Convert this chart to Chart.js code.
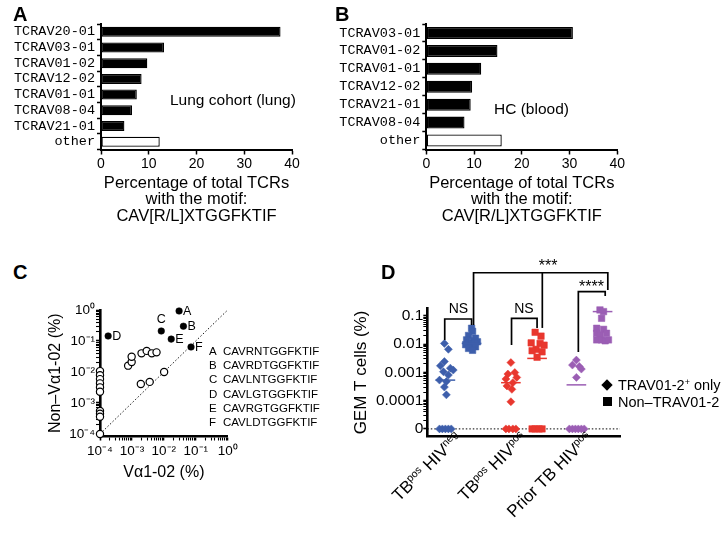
<!DOCTYPE html>
<html><head><meta charset="utf-8">
<script src="https://cdn.jsdelivr.net/npm/chart.js@4/dist/chart.umd.min.js"></script>
<style>
html,body{margin:0;padding:0;background:#fff;}
#wrap{position:relative;width:728px;height:545px;overflow:hidden;background:#fff;font-family:"Liberation Sans",Arial,Helvetica,sans-serif;color:#000;}
canvas{position:absolute;}
.t{position:absolute;white-space:nowrap;line-height:1;}
.letter{font-weight:bold;font-size:20px;}
.cat{position:absolute;width:0;height:0;}
.cat span{position:absolute;right:0;bottom:0;white-space:nowrap;line-height:1;font-size:17px;transform-origin:100% 100%;transform:rotate(-45deg);}
sup{font-size:62%;vertical-align:0.55em;line-height:0;}
.mk{position:absolute;background:#000;}
</style></head><body>
<div id="wrap">
<canvas id="cA" width="340" height="250" style="left:0;top:0"></canvas>
<canvas id="cB" width="393" height="250" style="left:335px;top:0"></canvas>
<canvas id="cC" width="364" height="200" style="left:0;top:290px"></canvas>
<canvas id="cD" width="388" height="295" style="left:340px;top:250px"></canvas>

<div class="t letter" style="left:13px;top:4px">A</div>
<div class="t letter" style="left:335px;top:4px">B</div>
<div class="t letter" style="left:13px;top:262px">C</div>
<div class="t letter" style="left:381px;top:262px">D</div>

<div class="t" style="left:170px;top:92px;font-size:15.5px">Lung cohort (lung)</div>
<div class="t" style="left:494px;top:101px;font-size:15.5px">HC (blood)</div>

<div id="legC"></div>
<div id="legD"></div>
<div id="catsD"></div>
</div>
<script>
// ---------- DATA ----------
// Panel A (Lung cohort, lung)
const aCategories = ['TCRAV20-01','TCRAV03-01','TCRAV01-02','TCRAV12-02','TCRAV01-01','TCRAV08-04','TCRAV21-01','other'];
const aValues = [37.6, 13.2, 9.7, 8.5, 7.5, 6.5, 4.9, 12.3];
// Panel B (HC, blood)
const bCategories = ['TCRAV03-01','TCRAV01-02','TCRAV01-01','TCRAV12-02','TCRAV21-01','TCRAV08-04','other'];
const bValues = [30.7, 14.9, 11.5, 9.6, 9.3, 8.0, 15.8];
const abTicks = [0, 10, 20, 30, 40];
const abAxisTitle = ['Percentage of total TCRs', 'with the motif:', 'CAV[R/L]XTGGFKTIF'];

// Panel C
const cNamedX = [0.030, 0.041, 0.0083, 0.00018, 0.017, 0.071];
const cNamedY = [0.93, 0.30, 0.21, 0.145, 0.115, 0.064];
const cNames = ['A','B','C','D','E','F'];
const cMotifs = ['CAVRNTGGFKTIF','CAVRDTGGFKTIF','CAVLNTGGFKTIF','CAVLGTGGFKTIF','CAVRGTGGFKTIF','CAVLDTGGFKTIF'];
const cOtherX = [0.00076, 0.00098, 0.00098, 0.0020, 0.0029, 0.0042, 0.0059, 0.0019, 0.0036, 0.0102,
                 0.0001, 0.0001, 0.0001, 0.0001, 0.0001, 0.0001, 0.0001, 0.0001, 0.0001, 0.0001];
const cOtherY = [0.016, 0.021, 0.031, 0.040, 0.048, 0.040, 0.043, 0.0041, 0.0048, 0.010,
                 0.0107, 0.0079, 0.0059, 0.0043, 0.0032, 0.0023, 0.00055, 0.00045, 0.00036, 0.0001];
const cTickValues = [1e-4, 1e-3, 1e-2, 1e-1, 1];
const cTickLabels = ['10\u207B\u2074','10\u207B\u00B3','10\u207B\u00B2','10\u207B\u00B9','10\u2070'];

// Panel D
const dCategories = ['TB<sup>pos</sup> HIV<sup>neg</sup>', 'TB<sup>pos</sup> HIV<sup>pos</sup>', 'Prior TB HIV<sup>pos</sup>'];
const dSeriesNames = ['TRAV01-2<sup>+</sup> only', 'Non\u2013TRAV01-2'];
// values (%), 0 = undetectable; jitter = horizontal spread in category units
const d1Trav = [0.0105,0.0065,0.0024,0.0017,0.0014,0.0012,0.00105,0.0008,0.00053,0.00047,0.0003,0.00016,0,0,0,0,0];
const d1TravJit = [-0.015,0.046,-0.015,-0.076,0.076,0.12,-0.03,0.046,-0.09,0.015,-0.015,0.015,-0.09,-0.046,0,0.046,0.09];
const d1Non = [0.036,0.028,0.020,0.016,0.014,0.013,0.012,0.011,0.0105,0.0095,0.009,0.008,0.007,0.006];
const d1NonJit = [0,0.015,-0.046,0.06,-0.076,0.03,0.09,-0.03,0.046,-0.09,0,0.06,-0.046,0.015];
const d2Trav = [0.0022,0.00098,0.00087,0.00066,0.00058,0.00043,0.00033,0.00025,0.000091,0,0,0,0];
const d2TravJit = [0,0.06,-0.046,0.09,-0.076,0.03,-0.06,0.015,0,-0.076,-0.03,0.03,0.076];
const d2Non = [0.026,0.019,0.011,0.0105,0.0091,0.0065,0.0058,0.0053,0.0034,0,0,0,0];
const d2NonJit = [-0.03,0.06,-0.09,0.046,0.107,-0.015,-0.076,0.076,0,-0.076,-0.03,0.03,0.076];
const d3Trav = [0.0027,0.0018,0.0016,0.0013,0.00066,0,0,0,0,0,0];
const d3TravJit = [0,-0.06,0.046,0.076,0,-0.107,-0.06,-0.015,0.03,0.076,0.12];
const d3Non = [0.16,0.14,0.081,0.036,0.033,0.024,0.024,0.021,0.014,0.014,0.013,0.014];
const d3NonJit = [-0.04,0.015,-0.015,-0.09,0.015,0.06,-0.09,-0.04,-0.09,-0.015,0.04,0.09];
const dMedians = [[0.00053, 0.0105], [0.00043, 0.0031], [0.00036, 0.14]];
const dTickValues = [0, 0.0001, 0.001, 0.01, 0.1];
const dTickLabels = ['0', '0.0001', '0.001', '0.01', '0.1'];
const dColors = ['#3d5eab', '#e8372e', '#9b5eb4'];
// significance brackets (x in category units, y in %)
const dBrackets = [
  [[0.79,0.014],[0.79,0.0765],[1.20,0.0765],[1.20,0.047]],
  [[1.81,0.0092],[1.81,0.081],[2.20,0.081],[2.20,0.037]],
  [[1.23,0.047],[1.23,3.3],[3.28,3.3],[3.28,0.81]],
  [[2.28,0.037],[2.28,3.3]],
  [[2.83,0.0052],[2.83,0.71],[3.24,0.71],[3.24,0.5]]
];
const dBracketTexts = [
  {text:'NS', x:1.0, y:0.17}, {text:'NS', x:2.0, y:0.17},
  {text:'***', x:2.37, y:5.3}, {text:'****', x:3.03, y:0.95}
];

// ---------- SETUP ----------
const SANS = "'Liberation Sans', Arial, Helvetica, sans-serif";
Chart.defaults.font.family = SANS;
Chart.defaults.color = '#000';
Chart.defaults.animation = false;
Chart.defaults.plugins.legend.display = false;
Chart.defaults.plugins.tooltip.enabled = false;

function logTickList(minExp, maxExp) {
  const out = [];
  for (let e = minExp; e <= maxExp; e++) for (let m = 1; m <= 9; m++) out.push(m * Math.pow(10, e));
  return out;
}
function labelFor(v, values, labels) {
  const i = values.findIndex(t => t > 0 && Math.abs(Math.log10(t) - Math.log10(v)) < 1e-6);
  return i >= 0 ? labels[i] : '';
}

// ---------- A & B ----------
function barChart(id, cats, vals, yWidth, padRight, barPct) {
  return new Chart(document.getElementById(id), {
    type: 'bar',
    data: { labels: cats, datasets: [{
      data: vals,
      backgroundColor: cats.map(c => c === 'other' ? '#fff' : '#000'),
      borderColor: '#000', borderWidth: 1.3, borderSkipped: false,
      barPercentage: barPct, categoryPercentage: 1
    }]},
    options: {
      indexAxis: 'y', responsive: false,
      layout: { padding: { left: 0, top: 24, right: padRight, bottom: 25.5 } },
      scales: {
        x: {
          type: 'linear', min: 0, max: 40,
          afterBuildTicks: s => { s.ticks = abTicks.map(v => ({ value: v })); },
          ticks: { font: { size: 14 }, padding: 1, maxRotation: 0 },
          grid: { drawOnChartArea: false, tickLength: 5, tickColor: '#000', tickWidth: 1.5 },
          border: { display: true, color: '#000', width: 2 },
          title: { display: true, text: abAxisTitle, font: { size: 16.5, lineHeight: 1.0 }, padding: 0 },
          afterFit: s => { s.height = 75; }
        },
        y: {
          type: 'category',
          ticks: { autoSkip: false, font: { family: "'Liberation Mono', 'Courier New', monospace", size: 13.5 }, padding: 2 },
          grid: { drawOnChartArea: false, tickLength: 4, tickColor: '#000', tickWidth: 1.5 },
          border: { display: true, color: '#000', width: 2 },
          afterFit: s => { s.width = yWidth; }
        }
      }
    }
  });
}
barChart('cA', aCategories, aValues, 101, 48, 0.64);
barChart('cB', bCategories, bValues, 91.3, 110.7, 0.67);

// ---------- C ----------
const cLabelPlugin = {
  id: 'cLabels',
  afterDatasetsDraw(chart) {
    const meta = chart.getDatasetMeta(0);
    const ctx = chart.ctx;
    ctx.save();
    ctx.fillStyle = '#000';
    ctx.font = '12.5px ' + SANS;
    ctx.textBaseline = 'middle';
    meta.data.forEach((pt, i) => {
      if (cNames[i] === 'C') { ctx.textAlign = 'center'; ctx.fillText(cNames[i], pt.x, pt.y - 11); }
      else { ctx.textAlign = 'left'; ctx.fillText(cNames[i], pt.x + 4, pt.y + 0.5); }
    });
    ctx.restore();
  }
};
const cMinor = logTickList(-4, 0);
new Chart(document.getElementById('cC'), {
  type: 'scatter',
  data: { datasets: [
    { data: cNamedX.map((x, i) => ({ x, y: cNamedY[i] })), pointRadius: 3.3, backgroundColor: '#000', borderColor: '#000', borderWidth: 0.5, clip: false, order: 1 },
    { data: cOtherX.map((x, i) => ({ x, y: cOtherY[i] })), pointRadius: 3.6, backgroundColor: '#fff', borderColor: '#000', borderWidth: 1.2, clip: false, order: 2 },
    { data: [{ x: 1e-4, y: 1e-4 }, { x: 1, y: 1 }], showLine: true, pointRadius: 0, borderColor: '#000', borderWidth: 0.9, borderDash: [1.5, 2], order: 3 }
  ]},
  options: {
    responsive: false,
    layout: { padding: { left: 0, top: 20, right: 136.3, bottom: 9 } },
    scales: {
      x: {
        type: 'logarithmic', min: 1e-4, max: 1,
        afterBuildTicks: s => { s.ticks = cMinor.filter(v => v >= s.min * 0.999 && v <= s.max * 1.001).map(v => ({ value: v })); },
        ticks: { autoSkip: false, maxRotation: 0, font: { size: 13.5 }, padding: 3, callback: v => labelFor(v, cTickValues, cTickLabels) },
        grid: { drawOnChartArea: false, tickLength: 4, tickColor: '#000', tickWidth: c => (c.tick && labelFor(c.tick.value, cTickValues, cTickLabels)) ? 1.6 : 1.1 },
        border: { display: true, color: '#000', width: 2.6 },
        title: { display: true, text: 'V\u03B11-02 (%)', font: { size: 16, lineHeight: 1.0 }, padding: 0 },
        afterFit: s => { s.height = 44.5; }
      },
      y: {
        type: 'logarithmic', min: 8.3e-5, max: 1,
        afterBuildTicks: s => { s.ticks = cMinor.filter(v => v >= s.min * 0.999 && v <= s.max * 1.001).map(v => ({ value: v })); },
        ticks: { autoSkip: false, font: { size: 13.5 }, padding: 1, callback: v => labelFor(v, cTickValues, cTickLabels) },
        grid: { drawOnChartArea: false, tickLength: 4, tickColor: '#000', tickWidth: c => (c.tick && labelFor(c.tick.value, cTickValues, cTickLabels)) ? 1.6 : 1.1 },
        border: { display: true, color: '#000', width: 2.6 },
        title: { display: true, text: 'Non\u2013V\u03B11-02 (%)', font: { size: 16, lineHeight: 1.0 }, padding: { top: 48, bottom: 0 } },
        afterFit: s => { s.width = 100; }
      }
    }
  },
  plugins: [cLabelPlugin]
});
// C legend
(function () {
  const leg = document.getElementById('legC');
  cNames.forEach((n, i) => {
    const top = 346 + i * 14.2;
    leg.insertAdjacentHTML('beforeend',
      `<div class="t" style="left:209px;top:${top}px;font-size:11.5px">${n}</div>` +
      `<div class="t" style="left:223px;top:${top}px;font-size:11.5px">${cMotifs[i]}</div>`);
  });
})();

// ---------- D ----------
const D_LEFT = 340, D_TOP = 250;
const ZERO_POS = 1e-5; // position of "0" on the broken log axis
const toAxis = v => v === 0 ? ZERO_POS : v;
const dGroupsTrav = [[d1Trav, d1TravJit], [d2Trav, d2TravJit], [d3Trav, d3TravJit]];
const dGroupsNon = [[d1Non, d1NonJit], [d2Non, d2NonJit], [d3Non, d3NonJit]];
const OFF = 0.2, HALF = 0.15;
const dDatasets = [];
dGroupsTrav.forEach(([vals, jit], g) => {
  dDatasets.push({ data: vals.map((v, i) => ({ x: g + 1 - OFF + jit[i], y: toAxis(v) })), pointStyle: 'rectRot', pointRadius: 4, backgroundColor: dColors[g], borderColor: dColors[g], borderWidth: 0.5, clip: false, order: 1 });
});
dGroupsNon.forEach(([vals, jit], g) => {
  dDatasets.push({ data: vals.map((v, i) => ({ x: g + 1 + OFF + jit[i], y: toAxis(v) })), pointStyle: 'rect', pointRadius: 4.6, backgroundColor: dColors[g], borderColor: dColors[g], borderWidth: 0.5, clip: false, order: 1 });
});
dMedians.forEach(([mT, mN], g) => {
  [[-OFF, mT], [OFF, mN]].forEach(([o, m]) => {
    dDatasets.push({ data: [{ x: g + 1 + o - HALF, y: m }, { x: g + 1 + o + HALF, y: m }], showLine: true, pointRadius: 0, borderColor: dColors[g], borderWidth: 1.5, clip: false, order: 0 });
  });
});
const X_MIN = 0.524, X_MAX = 3.466;
dDatasets.push({ data: [{ x: X_MIN, y: ZERO_POS }, { x: X_MAX, y: ZERO_POS }], showLine: true, pointRadius: 0, borderColor: '#000', borderWidth: 1, borderDash: [1.5, 2], order: 5 });

const bracketPlugin = {
  id: 'brackets',
  afterDatasetsDraw(chart) {
    const { ctx, scales: { x, y } } = chart;
    ctx.save();
    ctx.strokeStyle = '#000'; ctx.lineWidth = 1.7; ctx.lineJoin = 'miter';
    dBrackets.forEach(path => {
      ctx.beginPath();
      path.forEach(([vx, vy], i) => {
        const px = x.getPixelForValue(vx), py = y.getPixelForValue(vy);
        if (i) ctx.lineTo(px, py); else ctx.moveTo(px, py);
      });
      ctx.stroke();
    });
    ctx.fillStyle = '#000'; ctx.textAlign = 'center'; ctx.textBaseline = 'middle';
    dBracketTexts.forEach(t => {
      ctx.font = (t.text === 'NS' ? '14px ' : '16px ') + SANS;
      ctx.fillText(t.text, x.getPixelForValue(t.x), y.getPixelForValue(t.y));
    });
    ctx.restore();
  }
};
const dMinor = logTickList(-5, -1);
const chartD = new Chart(document.getElementById('cD'), {
  type: 'scatter',
  data: { datasets: dDatasets },
  options: {
    responsive: false,
    layout: { padding: { left: 0, top: 58.3, right: 108, bottom: 0 } },
    scales: {
      x: {
        type: 'linear', min: X_MIN, max: X_MAX,
        ticks: { display: false },
        grid: { display: false },
        border: { display: true, color: '#000', width: 2.6 },
        afterFit: s => { s.height = 108.3; }
      },
      y: {
        type: 'logarithmic', min: 5.3e-6, max: 0.183,
        afterBuildTicks: s => { s.ticks = dMinor.filter(v => v >= s.min * 0.999 && v <= s.max * 1.001).map(v => ({ value: v })); },
        ticks: { autoSkip: false, font: { size: 15.5 }, padding: 0, callback: v => labelFor(v, dTickValues.map(toAxis), dTickLabels) },
        grid: { drawOnChartArea: false, tickLength: 4, tickColor: '#000', tickWidth: c => (c.tick && labelFor(c.tick.value, dTickValues.map(toAxis), dTickLabels)) ? 1.6 : 1 },
        border: { display: true, color: '#000', width: 2.6 },
        title: { display: true, text: 'GEM T cells (%)', font: { size: 17, lineHeight: 1.0 }, padding: { top: 12.5, bottom: 0 } },
        afterFit: s => { s.width = 87.3; }
      }
    }
  },
  plugins: [bracketPlugin]
});
// D category labels (rotated, with superscripts) anchored on the x scale
(function () {
  const host = document.getElementById('catsD');
  const xs = chartD.scales.x;
  const bottom = D_TOP + chartD.chartArea.bottom;
  dCategories.forEach((c, g) => {
    const ax = D_LEFT + xs.getPixelForValue(g + 1) + 6;
    host.insertAdjacentHTML('beforeend', `<div class="cat" style="left:${ax}px;top:${bottom + 4}px"><span>${c}</span></div>`);
  });
  const leg = document.getElementById('legD');
  leg.innerHTML =
    `<div class="mk" style="left:603px;top:381px;width:8px;height:8px;transform:rotate(45deg)"></div>` +
    `<div class="t" style="left:618px;top:378px;font-size:14.5px">${dSeriesNames[0]}</div>` +
    `<div class="mk" style="left:603px;top:397px;width:8.5px;height:8.5px"></div>` +
    `<div class="t" style="left:618px;top:394.5px;font-size:14.5px">${dSeriesNames[1]}</div>`;
})();
</script>
</body></html>
